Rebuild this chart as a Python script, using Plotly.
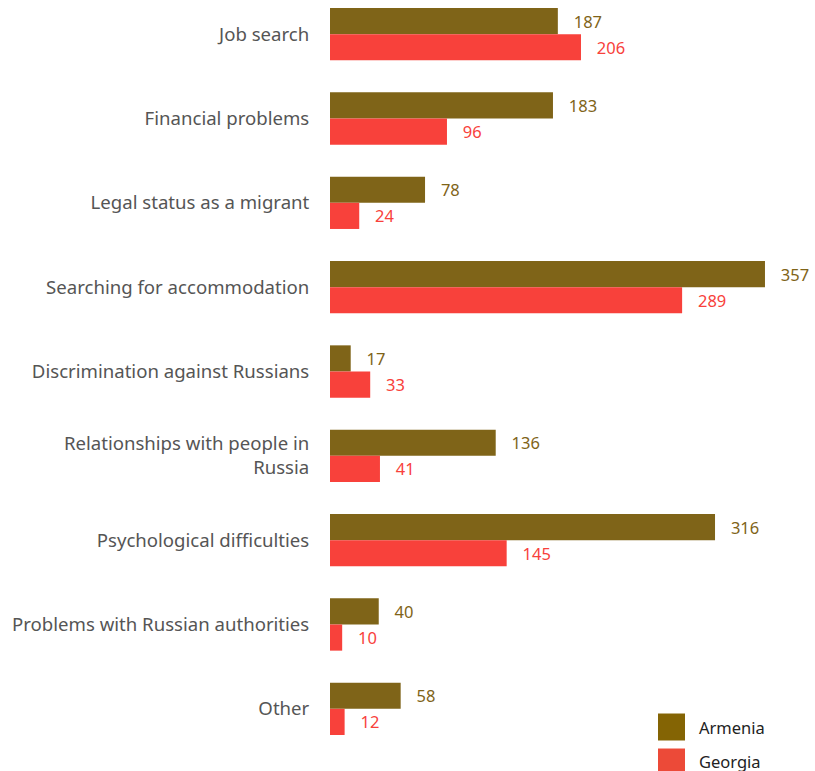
import plotly.graph_objects as go

categories = ["Job search", "Financial problems", "Legal status as a migrant",
              "Searching for accommodation", "Discrimination against Russians",
              "Relationships with people in<br>Russia", "Psychological difficulties",
              "Problems with Russian authorities", "Other"]
armenia = [187, 183, 78, 357, 17, 136, 316, 40, 58]
georgia = [206, 96, 24, 289, 33, 41, 145, 10, 12]
series_names = ["Armenia", "Georgia"]
col_arm = "#7f6418"
col_geo = "#f8413b"

fig = go.Figure()
for name, vals, col in [(series_names[0], armenia, col_arm), (series_names[1], georgia, col_geo)]:
    fig.add_trace(go.Bar(
        y=categories, x=vals, name=name, orientation="h",
        marker=dict(color=col, line=dict(width=0)),
        text=vals, texttemplate="   %{x}", textposition="outside",
        textfont=dict(color=col, size=16.5, family="Noto Sans"),
        cliponaxis=False, showlegend=False,
    ))

fig.update_layout(
    width=815, height=771,
    margin=dict(l=330, r=22, t=0, b=20),
    barmode="group", bargap=0.38, bargroupgap=0,
    plot_bgcolor="white", paper_bgcolor="white",
    font=dict(family="Noto Sans", size=18.6, color="#555"),
    xaxis=dict(range=[0, 380], visible=False, showgrid=False),
    yaxis=dict(range=[8.5, -0.405], showgrid=False, ticks="outside", ticklen=16,
               tickcolor="rgba(0,0,0,0)", showline=False,
               tickfont=dict(size=18.6, color="#555")),
)

# legend drawn as shapes + text
legend_items = [(series_names[0], "#846404", 727), (series_names[1], "#ec4a38", 762)]
H = 771
for name, col, yc in legend_items:
    fig.add_shape(type="rect", xref="paper", yref="paper",
                  x0=(658 - 330) / 463, x1=(685 - 330) / 463,
                  y0=(H - 20 - (yc + 13.5)) / 751, y1=(H - 20 - (yc - 13.5)) / 751,
                  fillcolor=col, line=dict(width=0))
    fig.add_annotation(xref="paper", yref="paper", x=(697 - 330) / 463,
                       y=(H - 20 - yc) / 751, text=name, showarrow=False,
                       xanchor="left", yanchor="middle",
                       font=dict(size=16.5, color="#222", family="Noto Sans"))

fig.write_html("out.html", config={"displayModeBar": False},
               post_script="document.body.style.margin='0';document.body.style.overflow='hidden';")
